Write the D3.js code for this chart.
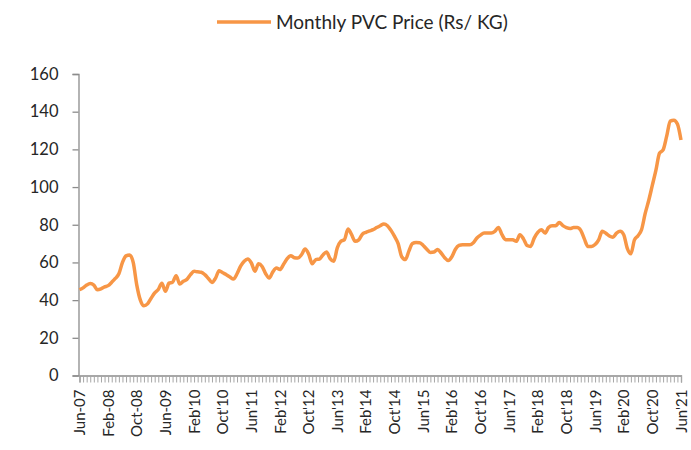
<!DOCTYPE html>
<html>
<head>
<meta charset="utf-8">
<script src="https://cdn.jsdelivr.net/npm/d3@7"></script>
<style>
  body { margin: 0; background: #fff; }
  text { font-family: Lato, "Open Sans", sans-serif; fill: #262626; }
</style>
</head>
<body>
<svg id="chart" width="691" height="450"></svg>
<script>
// monthly PVC price, Jun-07 .. Jun-21
const prices = [
  45.5, 46.5, 48, 48.8, 48, 45.5, 46, 47, 47.7, 49.5, 51.5, 54,
  60, 63.5, 64, 60, 48, 40, 37, 38, 41, 43.8, 45.6, 49,
  44.7, 49, 49.5, 53, 48.5, 50, 51, 53.5, 55.3, 55, 54.8, 53.5,
  51.5, 49.4, 51.7, 55.6, 54.5, 53.5, 52.3, 51.2, 54, 58, 60.6, 61.8,
  59.7, 55.3, 59.3, 57.9, 54, 51.7, 55, 57, 56.2, 59, 62, 63.6,
  62.5, 62.3, 64.1, 67.1, 64.5, 59.3, 61.5, 61.8, 64, 65.5, 62, 60.6,
  67.7, 71.2, 72.1, 77.7, 74.7, 71.2, 72, 75, 76, 76.7, 77.4, 78.5,
  79.5, 80.4, 79.5, 77, 73.8, 70, 63, 61.5, 66, 70, 70.6, 70.5,
  69, 67, 65.3, 65.5, 66.8, 65, 62.5, 61, 63, 67, 69, 69.4,
  69.4, 69.4, 70.5, 73, 74.5, 75.6, 75.6, 75.6, 76.5, 78.6, 74.7, 72.1,
  72.1, 72, 71.2, 74.7, 72.5, 69, 68.5, 72.9, 76, 77.4, 75.6, 78.5,
  79.5, 79.5, 81.2, 79.5, 78.5, 78, 78.5, 78.5, 77, 72.5, 68.5, 68.5,
  69.5, 72, 76.5, 75.5, 74, 73.4, 75.5, 76.5, 74.7, 67.5, 64.6, 72,
  74.2, 77.5, 86, 93, 101, 109, 118, 119.7, 127, 135, 135.5, 133.5,
  125
];

// one label every 8 months
const tickLabels = [
  "Jun-07", "Feb-08", "Oct-08", "Jun-09", "Feb'10", "Oct'10", "Jun'11", "Feb'12",
  "Oct'12", "Jun'13", "Feb'14", "Oct'14", "Jun'15", "Feb'16", "Oct'16", "Jun'17",
  "Feb'18", "Oct'18", "Jun'19", "Feb'20", "Oct'20", "Jun'21"
];
const yTicks = [0, 20, 40, 60, 80, 100, 120, 140, 160];
const seriesName = "Monthly PVC Price (Rs/ KG)";

const svg = d3.select("#chart");
const mLeft = 78.5, mRight = 681, mTop = 74, mBottom = 375.5;

const x = d3.scaleLinear().domain([0, prices.length - 1]).range([mLeft + 1, mRight]);
const y = d3.scaleLinear().domain([0, 160]).range([mBottom, mTop]);

// y axis
const yAxis = svg.append("g")
  .attr("transform", `translate(${mLeft},0)`)
  .call(d3.axisLeft(y).tickValues(yTicks).tickSize(6).tickPadding(14));
yAxis.select(".domain").attr("stroke", "#8c8c8c").attr("stroke-width", 1.3);
yAxis.selectAll(".tick line").attr("stroke", "#8c8c8c").attr("stroke-width", 1.3);
yAxis.selectAll("text").attr("font-size", 16.5).attr("fill", "#262626");

// x axis: minor tick each month
const xAxis = svg.append("g")
  .attr("transform", `translate(0,${mBottom})`)
  .call(d3.axisBottom(x).tickValues(d3.range(prices.length)).tickSize(7).tickFormat(""));
xAxis.select(".domain").attr("stroke", "#8c8c8c").attr("stroke-width", 1.3);
xAxis.selectAll(".tick line").attr("stroke", "#a6a6a6");

svg.append("g")
  .selectAll("text")
  .data(tickLabels)
  .join("text")
  .attr("transform", (d, i) => `translate(${x(i * 8) + 5.5},${mBottom + 14}) rotate(-90)`)
  .attr("text-anchor", "end")
  .attr("font-size", 15)
  .text((d) => d);

// line
svg.append("path")
  .datum(prices)
  .attr("fill", "none")
  .attr("stroke", "#F79646")
  .attr("stroke-width", 3.5)
  .attr("stroke-linejoin", "round")
  .attr("d", d3.line().x((d, i) => x(i)).y((d) => y(d)).curve(d3.curveMonotoneX));

// legend
const legend = svg.append("g");
legend.append("line")
  .attr("x1", 217).attr("x2", 271).attr("y1", 22).attr("y2", 22)
  .attr("stroke", "#F79646").attr("stroke-width", 3.5);
legend.append("text")
  .attr("x", 276).attr("y", 29)
  .attr("font-size", 19)
  .text(seriesName);
</script>
</body>
</html>
